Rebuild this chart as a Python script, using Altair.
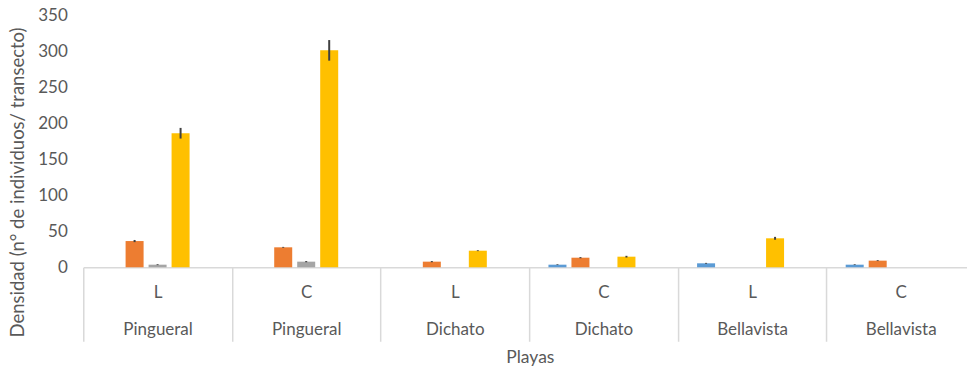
import altair as alt
import pandas as pd

# Beach and zone for each category on the x axis
playas = ["Pingueral", "Pingueral", "Dichato", "Dichato", "Bellavista", "Bellavista"]
zonas = ["L", "C", "L", "C", "L", "C"]

series = ["Serie 1", "Serie 2", "Serie 3", "Serie 4", "Serie 5"]
colores = ["#5B9BD5", "#ED7D31", "#A5A5A5", "#FFC000", "#4472C4"]

# Mean density per series (individuals / transect)
serie1 = [0, 0, 0, 3.6, 5.5, 3.6]
serie2 = [36.4, 27.7, 7.8, 13.3, 0, 9.2]
serie3 = [3.6, 7.8, 0, 0, 0, 0]
serie4 = [186, 301, 23, 14.7, 40.2, 0]
serie5 = [0, 0, 0, 0, 0, 0]

# Standard error per series
error1 = [0, 0, 0, 0.5, 0.6, 0.5]
error2 = [1.5, 0.6, 0.8, 0.8, 0, 0.6]
error3 = [0.6, 0.8, 0, 0, 0, 0]
error4 = [7.4, 14.3, 0.6, 1.2, 2.0, 0]
error5 = [0, 0, 0, 0, 0, 0]

y_ticks = [0, 50, 100, 150, 200, 250, 300, 350]

categorias = [f"{z}|{p}" for z, p in zip(zonas, playas)]

filas = []
for nombre, vals, errs in zip(
    series,
    [serie1, serie2, serie3, serie4, serie5],
    [error1, error2, error3, error4, error5],
):
    for cat, v, e in zip(categorias, vals, errs):
        filas.append({"categoria": cat, "serie": nombre, "valor": v,
                      "err": e, "lo": v - e, "hi": v + e})
df = pd.DataFrame(filas)

TEXT = "#595959"
FONT = "Lato"

x_scale = alt.Scale(domain=categorias, range=[0, 892], paddingInner=0, paddingOuter=0)
x_axis = alt.Axis(
    title="Playas",
    labelExpr="isValid(datum.value) ? split(datum.value, '|') : ''",
    labelAngle=0,
    labelFont=FONT,
    labelFontSize=17,
    labelColor=TEXT,
    labelLineHeight=37,
    labelPadding=-57,
    labelOverlap=False,
    labelBound=False,
    labelFlush=False,
    tickBand="extent",
    tickSize=74,
    tickColor="#D9D9D9",
    tickWidth=1.5,
    domainColor="#D9D9D9",
    domainWidth=1.5,
    titleFont=FONT,
    titleFontSize=17.5,
    titleFontWeight="normal",
    titleColor=TEXT,
    titleX=446.7,
    titleY=90.5,
    titleBaseline="middle",
)

xoff_scale = alt.Scale(domain=series, paddingInner=0.217, paddingOuter=0.84)

y_scale = alt.Scale(domain=[0, 350], nice=False)
y_axis = alt.Axis(
    title="Densidad (n° de individuos/ transecto)",
    values=y_ticks,
    tickCount=8,
    grid=False,
    domain=False,
    ticks=False,
    labelOverlap=False,
    labelPadding=16,
    labelFont=FONT,
    labelFontSize=17,
    labelColor=TEXT,
    titleFont=FONT,
    titleFontSize=18.5,
    titleFontWeight="normal",
    titleColor=TEXT,
    titleX=-65.3,
    titleY=167,
    titleBaseline="middle",
)

barras = alt.Chart(df).mark_bar().encode(
    x=alt.X("categoria:N", sort=categorias, scale=x_scale, axis=x_axis),
    xOffset=alt.XOffset("serie:N", sort=series, scale=xoff_scale),
    y=alt.Y("valor:Q", scale=y_scale, axis=y_axis),
    color=alt.Color("serie:N", scale=alt.Scale(domain=series, range=colores), legend=None),
)

# Error bars drawn on the same scales and axes as the bars
errores = alt.Chart(df).transform_filter("datum.err > 0").mark_rule(
    color="#404040", strokeWidth=2
).encode(
    x=alt.X("categoria:N", sort=categorias, scale=x_scale, axis=x_axis),
    xOffset=alt.XOffset("serie:N", sort=series, scale=xoff_scale),
    y=alt.Y("lo:Q", scale=y_scale, axis=y_axis),
    y2="hi:Q",
)

chart = (
    alt.layer(barras, errores)
    .properties(
        width=884,
        height=252.3,
        autosize="none",
        padding={"left": 83.3, "top": 15, "right": 0, "bottom": 104.7},
        background="white",
    )
    .configure_view(stroke=None)
)

chart.save("out.html", embed_options={"renderer": "svg", "actions": False})
